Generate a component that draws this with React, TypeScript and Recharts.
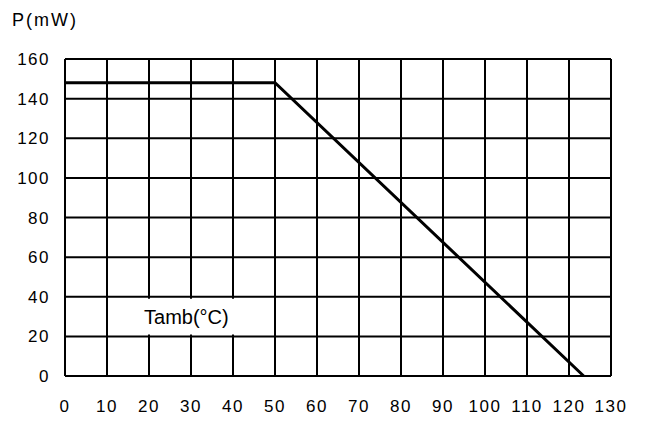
import { LineChart, Line, XAxis, YAxis, CartesianGrid, ReferenceArea } from 'recharts';

// Power derating curve: P(mW) vs ambient temperature
const temps = [0, 50, 123.5];
const power = [148, 148, 0];
const xTicks = [0, 10, 20, 30, 40, 50, 60, 70, 80, 90, 100, 110, 120, 130];
const yTicks = [0, 20, 40, 60, 80, 100, 120, 140, 160];

const data = temps.map((t, i) => ({ t, p: power[i] }));

const FONT = '"Liberation Sans", Arial, sans-serif';
const tickStyle = { fill: '#000', fontSize: 17, fontFamily: FONT, letterSpacing: 1.5 };

export default function App() {
  return (
    <div style={{ position: 'absolute', left: 0, top: 0, width: 653, height: 421, background: '#fff' }}>
      <div
        style={{
          position: 'absolute',
          left: 12,
          top: 10,
          fontFamily: FONT,
          fontSize: 18,
          letterSpacing: 2,
          color: '#000',
        }}
      >
        P(mW)
      </div>
      <LineChart width={653} height={421} data={data} margin={{ top: 59, right: 42, left: 0, bottom: 0 }}>
        <CartesianGrid stroke="#000" strokeWidth={2} />
        <XAxis
          dataKey="t"
          type="number"
          domain={[0, 130]}
          ticks={xTicks}
          height={45}
          axisLine={false}
          tickLine={false}
          tickSize={0}
          tickMargin={24}
          tick={tickStyle}
          interval={0}
        />
        <YAxis
          type="number"
          domain={[0, 160]}
          ticks={yTicks}
          width={65}
          axisLine={false}
          tickLine={false}
          tickSize={0}
          tickMargin={15}
          tick={tickStyle}
          interval={0}
        />
        <ReferenceArea
          x1={10.3}
          x2={47.5}
          y1={21}
          y2={39}
          fill="#fff"
          fillOpacity={1}
          stroke="none"
          label={{ value: 'Tamb(°C)', position: 'center', fill: '#000', fontSize: 20, fontFamily: FONT }}
        />
        <Line
          type="linear"
          dataKey="p"
          stroke="#000"
          strokeWidth={3}
          dot={false}
          isAnimationActive={false}
        />
      </LineChart>
    </div>
  );
}
